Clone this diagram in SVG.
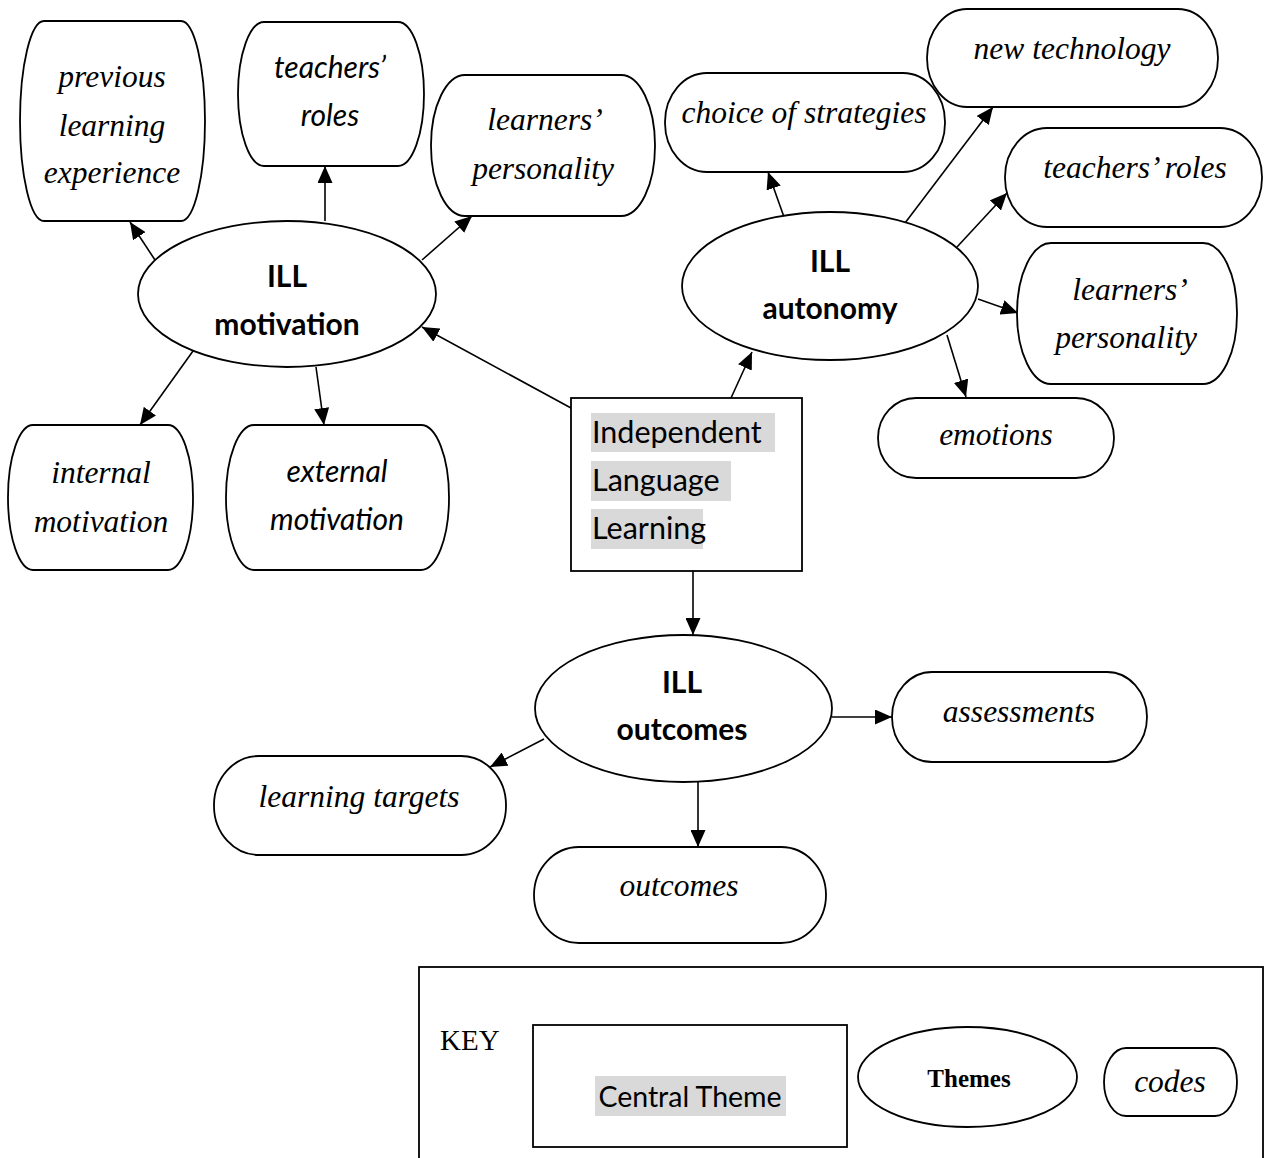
<svg xmlns="http://www.w3.org/2000/svg" width="1264" height="1158" viewBox="0 0 1264 1158">
  <defs>
    <marker id="ah" markerUnits="userSpaceOnUse" markerWidth="17" markerHeight="15" refX="17" refY="7.5" orient="auto">
      <path d="M0,0 L17,7.5 L0,15 z" fill="#000"/>
    </marker>
    <style>
      .shape { fill: #fff; stroke: #000; stroke-width: 1.8; }
      .edge { fill: none; stroke: #000; stroke-width: 1.6; marker-end: url(#ah); }
      .code { font-family: "Liberation Serif", "Times New Roman", serif; font-style: italic; font-size: 31.5px; text-anchor: middle; fill: #000; }
      .codesans { font-family: Lato, "Open Sans", sans-serif; font-style: italic; font-size: 30px; text-anchor: middle; fill: #000; }
      .theme { font-family: Lato, "Open Sans", sans-serif; font-weight: bold; font-size: 30px; text-anchor: middle; fill: #000; }
      .central { font-family: Lato, "Open Sans", sans-serif; font-size: 30.5px; fill: #000; }
      .hl { fill: #d9d9d9; }
    </style>
  </defs>
  <rect width="1264" height="1158" fill="#fff"/>

  <!-- connectors -->
  <g id="connectors">
    <line class="edge" x1="155" y1="260" x2="130" y2="222"/>
    <line class="edge" x1="325" y1="221" x2="325" y2="166"/>
    <line class="edge" x1="422" y1="260" x2="472" y2="216"/>
    <line class="edge" x1="571" y1="408" x2="422" y2="327"/>
    <line class="edge" x1="193" y1="351" x2="140" y2="425"/>
    <line class="edge" x1="316" y1="367" x2="324" y2="425"/>
    <line class="edge" x1="731" y1="398" x2="752" y2="352"/>
    <line class="edge" x1="784" y1="217" x2="768" y2="172"/>
    <line class="edge" x1="905" y1="223" x2="993" y2="107"/>
    <line class="edge" x1="957" y1="247" x2="1007" y2="193"/>
    <line class="edge" x1="978" y1="299" x2="1018" y2="313"/>
    <line class="edge" x1="947" y1="335" x2="966" y2="397"/>
    <line class="edge" x1="693" y1="571" x2="693" y2="635"/>
    <line class="edge" x1="544" y1="739" x2="490" y2="767"/>
    <line class="edge" x1="698" y1="782" x2="698" y2="847"/>
    <line class="edge" x1="832" y1="717" x2="892" y2="717"/>
  </g>

  <!-- central theme -->
  <g id="ill-central">
    <rect class="shape" x="571" y="398" width="231" height="173"/>
    <rect class="hl" x="591" y="413" width="184" height="39"/>
    <rect class="hl" x="591" y="461" width="140" height="40"/>
    <rect class="hl" x="591" y="509" width="112" height="40"/>
    <text class="central" x="592" y="443">Independent</text>
    <text class="central" x="592" y="491">Language</text>
    <text class="central" x="592" y="539">Learning</text>
  </g>

  <!-- themes -->
  <g id="theme-motivation">
    <ellipse class="shape" cx="287" cy="294" rx="149" ry="73"/>
    <text class="theme" x="287" y="287">ILL</text>
    <text class="theme" x="287" y="335">motivation</text>
  </g>
  <g id="theme-autonomy">
    <ellipse class="shape" cx="830" cy="286" rx="148" ry="74"/>
    <text class="theme" x="830" y="272">ILL</text>
    <text class="theme" x="830" y="319">autonomy</text>
  </g>
  <g id="theme-outcomes">
    <ellipse class="shape" cx="683.5" cy="708.5" rx="148.5" ry="73.5"/>
    <text class="theme" x="682" y="693">ILL</text>
    <text class="theme" x="682" y="740">outcomes</text>
  </g>

  <!-- codes: motivation -->
  <g id="code-previous-learning">
    <rect class="shape" x="20" y="21" width="185" height="200" rx="24" ry="100"/>
    <text class="code" x="112" y="87">previous</text>
    <text class="code" x="112" y="136">learning</text>
    <text class="code" x="112" y="183">experience</text>
  </g>
  <g id="code-teachers-roles-m">
    <rect class="shape" x="238" y="22" width="186" height="144" rx="26" ry="72"/>
    <text class="codesans" x="330" y="78">teachers’</text>
    <text class="codesans" x="330" y="126">roles</text>
  </g>
  <g id="code-learners-personality-m">
    <rect class="shape" x="431" y="75" width="224" height="141" rx="34" ry="70"/>
    <text class="code" x="545" y="130">learners’</text>
    <text class="code" x="543" y="179">personality</text>
  </g>
  <g id="code-internal">
    <rect class="shape" x="8" y="425" width="185" height="145" rx="25" ry="72"/>
    <text class="code" x="101" y="483">internal</text>
    <text class="code" x="101" y="532">motivation</text>
  </g>
  <g id="code-external">
    <rect class="shape" x="226" y="425" width="223" height="145" rx="28" ry="72"/>
    <text class="codesans" x="337" y="482">external</text>
    <text class="codesans" x="337" y="530">motivation</text>
  </g>

  <!-- codes: autonomy -->
  <g id="code-choice">
    <rect class="shape" x="665" y="73" width="280" height="99" rx="42" ry="49"/>
    <text class="code" x="804" y="123">choice of strategies</text>
  </g>
  <g id="code-new-technology">
    <rect class="shape" x="927" y="9" width="291" height="98" rx="40" ry="49"/>
    <text class="code" x="1072" y="59">new technology</text>
  </g>
  <g id="code-teachers-roles-a">
    <rect class="shape" x="1005" y="128" width="257" height="99" rx="42" ry="49"/>
    <text class="code" x="1135" y="178">teachers’ roles</text>
  </g>
  <g id="code-learners-personality-a">
    <rect class="shape" x="1017" y="243" width="220" height="141" rx="34" ry="70"/>
    <text class="code" x="1130" y="300">learners’</text>
    <text class="code" x="1126" y="348">personality</text>
  </g>
  <g id="code-emotions">
    <rect class="shape" x="878" y="398" width="236" height="80" rx="38" ry="40"/>
    <text class="code" x="996" y="445">emotions</text>
  </g>

  <!-- codes: outcomes -->
  <g id="code-assessments">
    <rect class="shape" x="892" y="672" width="255" height="90" rx="40" ry="45"/>
    <text class="code" x="1019" y="722">assessments</text>
  </g>
  <g id="code-learning-targets">
    <rect class="shape" x="214" y="756" width="292" height="99" rx="45" ry="49"/>
    <text class="code" x="359" y="807">learning targets</text>
  </g>
  <g id="code-outcomes">
    <rect class="shape" x="534" y="847" width="292" height="96" rx="45" ry="48"/>
    <text class="code" x="679" y="896">outcomes</text>
  </g>

  <!-- legend -->
  <g id="key">
    <rect class="shape" x="419" y="967" width="844" height="200"/>
    <text x="440" y="1050" font-family="Liberation Serif, Times New Roman, serif" font-size="29" fill="#000">KEY</text>
    <rect class="shape" x="533" y="1025" width="314" height="122"/>
    <rect class="hl" x="595" y="1076" width="191" height="40"/>
    <text x="690" y="1107" font-family="Lato, Open Sans, sans-serif" font-size="28.5" text-anchor="middle" fill="#000">Central Theme</text>
    <ellipse class="shape" cx="967.5" cy="1077" rx="109.5" ry="50"/>
    <text x="969" y="1087" font-family="Liberation Serif, Times New Roman, serif" font-weight="bold" font-size="25" text-anchor="middle" fill="#000">Themes</text>
    <rect class="shape" x="1104" y="1048" width="133" height="68" rx="22" ry="34"/>
    <text class="code" x="1170" y="1092">codes</text>
  </g>
</svg>
